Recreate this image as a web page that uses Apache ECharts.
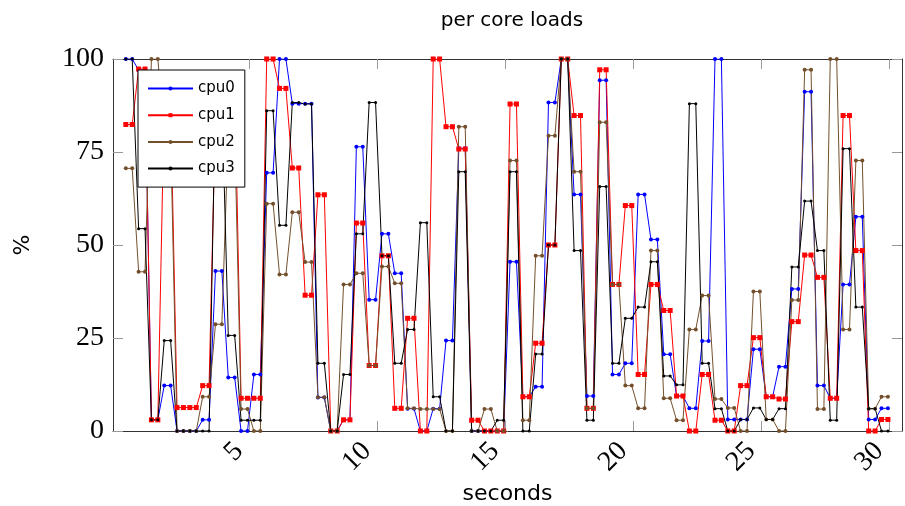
<!DOCTYPE html>
<html>
<head>
<meta charset="utf-8">
<title>per core loads</title>
<script src="https://cdn.jsdelivr.net/npm/echarts@6/dist/echarts.min.js"></script>
<style>
  html, body { margin: 0; padding: 0; background: #fff; }
  #chart { width: 905px; height: 506px; }
</style>
</head>
<body>
<div id="chart"></div>
<script>
// sample start times (s); every sample is held for a quarter second
var sampleTimes = [
  0.2, 0.7, 1.2, 1.7, 2.2, 2.7, 3.2, 3.7, 4.2, 4.7,
  5.2, 5.7, 6.2, 6.7, 7.2, 7.7, 8.2, 8.7, 9.2, 9.7,
  10.2, 10.7, 11.2, 11.7, 12.2, 12.7, 13.2, 13.7, 14.2, 14.7,
  15.2, 15.7, 16.2, 16.7, 17.2, 17.7, 18.2, 18.7, 19.2, 19.7,
  20.2, 20.7, 21.2, 21.7, 22.2, 22.7, 23.2, 23.7, 24.2, 24.7,
  25.2, 25.7, 26.2, 26.7, 27.2, 27.7, 28.2, 28.7, 29.2, 29.7
];
var holdTime = 0.25;

var cpu0 = [
  100, 97, 3, 12.2, 0, 0, 3, 43, 14.4, 0,
  15.2, 69.4, 100, 88, 88, 9, 0, 3, 76.4, 35.3,
  53, 42.4, 6, 0, 6, 24.3, 76, 0, 0, 0,
  45.5, 9.2, 11.9, 88.3, 100, 63.6, 9.4, 94.3, 15.2, 18.2,
  63.6, 51.5, 20.6, 9.4, 6.1, 24.2, 100, 3.1, 3.1, 22,
  9.2, 17.3, 38.2, 91.2, 12.2, 8.8, 39.4, 57.6, 3.1, 6.1
];
var cpu1 = [
  82.4, 97.3, 3, 88, 6.3, 6.3, 12.2, 85, 95, 8.8,
  8.8, 100, 92.1, 70.7, 36.5, 63.5, 0, 3, 55.9, 17.6,
  47.1, 6.1, 30.3, 0, 100, 81.8, 75.8, 2.9, 0, 0,
  87.9, 9.2, 23.6, 50, 100, 84.8, 6.1, 97.1, 39.4, 60.6,
  15.2, 39.4, 32.4, 9.4, 0, 15.2, 2.9, 0, 12.2, 25.1,
  9.2, 8.6, 29.4, 47.3, 41.3, 8.8, 84.8, 48.5, 0, 3.1
];
var cpu2 = [
  70.6, 42.8, 100, 80, 0, 0, 9.2, 28.7, 80, 5.9,
  0, 61.1, 42.1, 58.8, 45.4, 9.1, 0, 39.4, 42.4, 17.6,
  44.2, 39.7, 6.1, 5.9, 5.9, 0, 81.8, 0, 5.9, 0,
  72.7, 2.9, 47.1, 79.4, 100, 69.7, 6.1, 83, 39.4, 12.2,
  6.1, 48.5, 8.8, 2.9, 27.3, 36.4, 8.6, 6.2, 0, 37.5,
  3.1, 0, 35.2, 97.1, 5.9, 100, 27.3, 72.7, 6, 9.2
];
var cpu3 = [
  100, 54.4, 3, 24.3, 0, 0, 0, 90, 25.7, 2.9,
  2.9, 86.1, 55.3, 88.3, 87.9, 18.2, 0, 15.2, 53, 88.3,
  47.1, 18.2, 27.3, 56, 9.2, 0, 69.7, 0, 0, 2.9,
  69.7, 0, 20.7, 50, 100, 48.5, 2.9, 65.7, 18.2, 30.3,
  33.3, 45.5, 14.8, 12.4, 88, 18.2, 6, 0, 3.1, 6.2,
  3.1, 6, 44.1, 61.8, 48.5, 2.9, 75.9, 33.3, 6, 0
];

var seriesNames = ['cpu0', 'cpu1', 'cpu2', 'cpu3'];
var seriesValues = [cpu0, cpu1, cpu2, cpu3];
var seriesColors = ['#0000ff', '#ff0000', '#73502b', '#000000'];
var seriesSymbols = ['circle', 'rect', 'circle', 'circle'];
var symbolSizes = [4, 5, 4, 3];

var xTicks = [5, 10, 15, 20, 25, 30];

// each sample -> two points, at its start and at the end of the hold
function heldPoints(vals) {
  var out = [];
  for (var i = 0; i < vals.length; i++) {
    out.push([sampleTimes[i], vals[i]]);
    out.push([sampleTimes[i] + holdTime, vals[i]]);
  }
  return out;
}

var serif = 'Liberation Serif';
var sans = 'DejaVu Sans';
var frame = { show: true, onZero: false, lineStyle: { color: '#333', width: 1 } };
var tick = { show: true, inside: true, length: 10, lineStyle: { color: '#999', width: 1 } };

var chart = echarts.init(document.getElementById('chart'), null, { renderer: 'canvas' });

var option = {
  animation: false,
  backgroundColor: '#fff',
  title: {
    text: 'per core loads',
    left: 507, top: 6,
    textAlign: 'center',
    textStyle: { fontFamily: sans, fontSize: 20, fontWeight: 'normal', color: '#000' }
  },
  legend: {
    orient: 'vertical',
    left: 138, top: 70,
    padding: [11, 10, 11, 9],
    itemWidth: 45, itemHeight: 5, itemGap: 11.7,
    backgroundColor: '#fff',
    borderColor: '#000', borderWidth: 1,
    textStyle: { fontFamily: sans, fontSize: 15, color: '#000' },
    data: seriesNames
  },
  grid: { left: 113, right: 3, top: 59, bottom: 75, outerBoundsMode: 'none' },
  xAxis: [{
    type: 'value', min: -0.3, max: 30.5,
    name: 'seconds', nameLocation: 'middle', nameGap: 51,
    nameTextStyle: { fontFamily: sans, fontSize: 22, color: '#000' },
    axisLine: frame,
    axisTick: Object.assign({ customValues: xTicks }, tick),
    axisLabel: {
      customValues: xTicks, rotate: 45, margin: 6, padding: [0, 14, 0, 0],
      fontFamily: serif, fontSize: 28, color: '#000'
    },
    splitLine: { show: false }
  }, {
    type: 'value', min: -0.3, max: 30.5, position: 'top',
    axisLine: frame,
    axisTick: Object.assign({ customValues: xTicks }, tick),
    axisLabel: { show: false },
    splitLine: { show: false }
  }],
  yAxis: [{
    type: 'value', min: 0, max: 100, interval: 25,
    name: '%', nameLocation: 'middle', nameGap: 79, nameRotate: 90,
    nameTextStyle: { fontFamily: sans, fontSize: 22, color: '#000' },
    axisLine: frame,
    axisTick: tick,
    axisLabel: { margin: 9, fontFamily: serif, fontSize: 28, color: '#000' },
    splitLine: { show: false }
  }, {
    type: 'value', min: 0, max: 100, interval: 25, position: 'right',
    axisLine: frame,
    axisTick: tick,
    axisLabel: { show: false },
    splitLine: { show: false }
  }],
  series: seriesNames.map(function (name, i) {
    return {
      name: name,
      type: 'line',
      data: heldPoints(seriesValues[i]),
      symbol: seriesSymbols[i],
      symbolSize: symbolSizes[i],
      showAllSymbol: true,
      color: seriesColors[i],
      lineStyle: { width: 1, color: seriesColors[i] },
      itemStyle: { color: seriesColors[i] },
      emphasis: { disabled: true }
    };
  })
};

chart.setOption(option);
</script>
</body>
</html>
